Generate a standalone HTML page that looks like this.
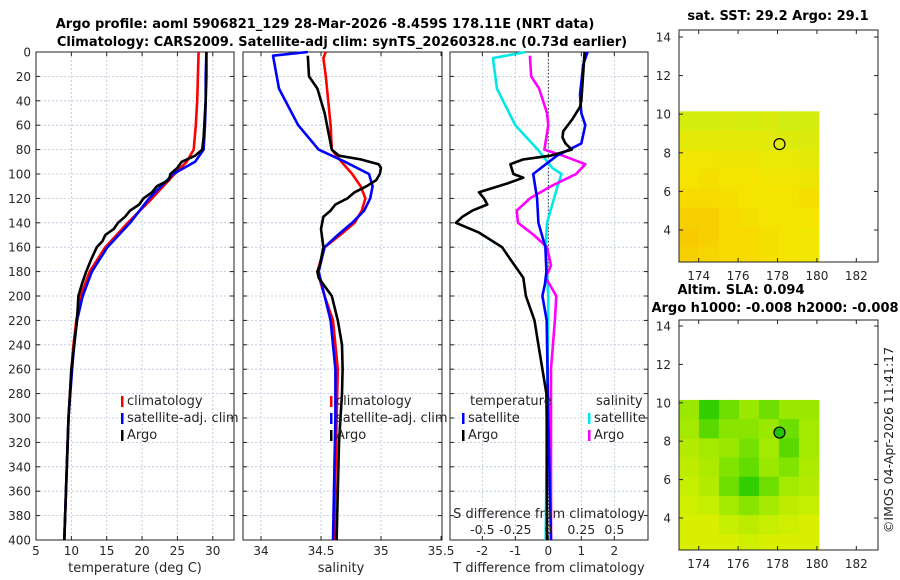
<!DOCTYPE html>
<html><head><meta charset="utf-8"><style>
body{margin:0;background:#fff}
svg{display:block;font-family:"DejaVu Sans","Liberation Sans",sans-serif}
</style></head><body>
<svg id="fig" width="900" height="580" viewBox="0 0 900 580" xmlns="http://www.w3.org/2000/svg">
<text x="325" y="28" font-size="13" font-weight="bold" text-anchor="middle" fill="#000">Argo profile: aoml 5906821_129 28-Mar-2026 -8.459S 178.11E (NRT data)</text>
<text x="342" y="46" font-size="13" font-weight="bold" text-anchor="middle" fill="#000">Climatology: CARS2009. Satellite-adj clim: synTS_20260328.nc (0.73d earlier)</text>
<text x="778" y="20" font-size="13" font-weight="bold" text-anchor="middle">sat. SST: 29.2 Argo: 29.1</text>
<text x="741" y="294" font-size="13" font-weight="bold" text-anchor="middle">Altim. SLA: 0.094</text>
<text x="775" y="312" font-size="13" font-weight="bold" text-anchor="middle">Argo h1000: -0.008 h2000: -0.008</text>
<text transform="translate(893,440) rotate(-90)" font-size="12.5" text-anchor="middle" fill="#222">©IMOS 04-Apr-2026 11:41:17</text>
<g id="g"></g>
</svg>
<script>
// ---- Panel 1: temperature ----
const tClimDepth=[0,20,40,60,80,90,100,120,140,160,180,200,220,240,260,300,350,400];
const tClimVal=[28.0,27.9,27.8,27.6,27.3,26.3,24.6,21.4,18.0,14.8,12.6,11.3,10.7,10.3,10.0,9.6,9.3,9.0];
const tSatVal=[29.1,29.0,29.0,28.9,28.7,27.5,24.4,21.0,18.3,15.1,12.9,11.6,10.8,10.4,10.1,9.6,9.3,9.0];
const tArgoDepth=[0,20,40,50,60,70,80,85,90,95,100,105,110,115,120,125,130,135,140,145,150,155,160,170,180,190,200,220,240,260,300,350,400];
const tArgoVal=[29.1,29.1,29.0,28.9,28.8,28.7,28.5,27.5,25.6,25.0,24.0,23.8,22.1,21.4,20.2,19.6,18.3,17.6,16.6,16.0,14.8,14.4,13.6,12.8,12.1,11.5,11.0,10.8,10.4,10.0,9.6,9.3,9.0];
// ---- Panel 2: salinity ----
const sClimDepth=[0,5,20,40,60,80,90,100,110,120,130,140,150,160,180,200,220,260,300,400];
const sClimVal=[34.54,34.52,34.54,34.56,34.58,34.59,34.67,34.76,34.83,34.87,34.84,34.78,34.66,34.53,34.47,34.53,34.60,34.64,34.63,34.61];
const sSatDepth=[0,3,30,60,80,90,100,110,120,130,140,150,160,180,200,220,260,300,400];
const sSatVal=[34.39,34.10,34.15,34.31,34.48,34.70,34.90,34.93,34.91,34.86,34.76,34.64,34.53,34.48,34.53,34.58,34.62,34.62,34.60];
const sArgoDepth=[3,20,30,50,70,80,85,88,92,95,100,105,110,115,120,125,130,135,145,160,175,180,185,200,220,240,260,280,320,360,400];
const sArgoVal=[34.39,34.40,34.47,34.53,34.57,34.59,34.65,34.83,34.98,35.0,34.99,34.96,34.88,34.78,34.72,34.62,34.58,34.52,34.50,34.52,34.49,34.47,34.48,34.59,34.64,34.675,34.68,34.675,34.65,34.64,34.63];
// ---- Panel 3: differences ----
const dTSatDepth=[0,10,35,50,60,75,85,100,120,140,160,180,190,200,220,300,400];
const dTSatVal=[1.19,1.06,0.96,1.0,1.12,1.0,0.26,-0.46,-0.34,-0.30,-0.09,-0.06,-0.10,-0.18,-0.05,0.0,0.08];
const dTArgoDepth=[0,20,40,45,55,65,70,75,80,85,88,92,100,103,108,115,120,125,130,135,140,148,160,170,185,200,220,240,260,280,300,400];
const dTArgoVal=[1.1,1.05,1.0,0.96,0.73,0.45,0.43,0.52,0.71,0.06,-0.76,-1.15,-1.06,-0.76,-1.27,-2.1,-1.95,-1.85,-2.3,-2.6,-2.8,-2.1,-1.4,-1.15,-0.76,-0.68,-0.42,-0.3,-0.18,-0.06,-0.05,-0.04];
const dSSatDepth=[0,5,30,60,80,95,100,110,140,160,200,300,400];
const dSSatVal=[-0.17,-0.42,-0.39,-0.25,-0.08,0.03,0.10,0.07,-0.01,-0.02,0.0,-0.01,-0.02];
const dSArgoDepth=[3,20,30,50,60,80,85,92,100,110,120,130,140,150,160,175,185,200,220,260,300,400];
const dSArgoVal=[-0.14,-0.13,-0.07,-0.01,0.0,-0.03,0.11,0.28,0.21,0.02,-0.14,-0.24,-0.23,-0.11,-0.01,0.02,-0.02,0.06,0.05,0.02,0.02,0.02];
// ---- ticks ----
const depthTicks=[0,20,40,60,80,100,120,140,160,180,200,220,240,260,280,300,320,340,360,380,400];
const tempTicks=[5,10,15,20,25,30];
const salTicks=[34,34.5,35,35.5];
const dTTicks=[-2,-1,0,1,2];
const dSTicks=[-0.5,-0.25,0,0.25,0.5];
// ---- maps ----
const latTicks=[4,6,8,10,12,14];
const lonTicks=[174,176,178,180,182];
const sstGrid=[
[0.1,0.1,0.15,0.1,0.15,0.05,0.1],
[0.3,0.3,0.3,0.3,0.25,0.2,0.2],
[0.45,0.45,0.4,0.4,0.35,0.35,0.3],
[0.5,0.55,0.5,0.5,0.45,0.45,0.4],
[0.6,0.6,0.55,0.5,0.5,0.5,0.55],
[0.7,0.7,0.6,0.55,0.5,0.5,0.5],
[0.75,0.7,0.6,0.6,0.55,0.5,0.45],
[0.7,0.65,0.6,0.6,0.55,0.5,0.45]];
const slaGrid=[
[0.35,0.9,0.6,0.35,0.6,0.35,0.35],
[0.3,0.7,0.45,0.45,0.35,0.6,0.3],
[0.2,0.3,0.35,0.55,0.3,0.7,0.3],
[0.15,0.25,0.5,0.65,0.35,0.5,0.25],
[0.1,0.2,0.6,0.9,0.6,0.3,0.2],
[0.05,0.1,0.3,0.45,0.3,0.15,0.1],
[0.0,0.0,0.1,0.15,0.1,0.05,0.0],
[0.0,0.0,0.0,0.05,0.0,0.0,0.0]];
const argoLon=178.1, argoLat=8.45;

const NS="http://www.w3.org/2000/svg";
const G=document.getElementById('g');
function el(tag,attrs,parent){const e=document.createElementNS(NS,tag);for(const k in attrs)e.setAttribute(k,attrs[k]);(parent||G).appendChild(e);return e;}
function txt(x,y,s,size,anchor,parent){const t=el('text',{x:x,y:y,'font-size':size,'text-anchor':anchor||'middle',fill:'#262626'},parent);t.textContent=s;return t;}

const Y0=52,Y1=540;
const yD=d=>Y0+(d/400)*(Y1-Y0);
function lin(d0,d1,r0,r1){return v=>r0+(v-d0)/(d1-d0)*(r1-r0);}
const xT=lin(5,33,36,234);
const xS=lin(33.85,35.508,243,442);
const xDT=lin(-2.98,3.02,450,648);
const xDS=lin(-0.745,0.755,450,648);

function panel(name,x0,x1,xs,ticks,lbls){
  const g=el('g',{});
  
  
  depthTicks.forEach(d=>{if(d>0&&d<400){const l=el('line',{x1:x0,x2:x1,y1:yD(d),y2:yD(d),stroke:'#b8c4e0','stroke-width':0.8,'stroke-dasharray':'2,2'},g);
    }
    el('line',{x1:x0,x2:x0+4,y1:yD(d),y2:yD(d),stroke:'#222'},g);el('line',{x1:x1-4,x2:x1,y1:yD(d),y2:yD(d),stroke:'#222'},g);});
  ticks.forEach((v,i)=>{const x=xs(v);
    if(x>x0+1&&x<x1-1){const l=el('line',{x1:x,x2:x,y1:Y0,y2:Y1,stroke:'#b8c4e0','stroke-width':0.8,'stroke-dasharray':'2,2'},g);
      }
    el('line',{x1:x,x2:x,y1:Y1,y2:Y1-4,stroke:'#222'},g);el('line',{x1:x,x2:x,y1:Y0,y2:Y0+4,stroke:'#222'},g);
    const t=txt(x,Y1+15,lbls[i],12,'middle',g);});
  const r=el('rect',{x:x0,y:Y0,width:x1-x0,height:Y1-Y0,fill:'none',stroke:'#222','stroke-width':1},g);
  
  return g;
}
function line(xs,depths,vals,color,name,w){
  const p=depths.map((d,i)=>xs(vals[i]).toFixed(1)+','+yD(d).toFixed(1)).join(' ');
  const l=el('polyline',{points:p,fill:'none',stroke:color,'stroke-width':w||2.6,'stroke-linejoin':'round'});
  
  
}
function legend(x,y,color,label,name){
  el('rect',{x:x,y:y-9,width:2.5,height:11,fill:color});
  const t=txt(x+6,y,label,13,'start');
  
  
}

// panel 1
panel('temperature-panel',36,234,xT,tempTicks,tempTicks.map(String));
depthTicks.forEach(d=>{const t=txt(31,yD(d)+4.5,String(d),12,'end');
  
  });
line(xT,tClimDepth,tClimVal,'#ff0000','temp-climatology-line');
line(xT,tClimDepth,tSatVal,'#0000ff','temp-satellite-line');
line(xT,tArgoDepth,tArgoVal,'#000000','temp-argo-line');
let t1=txt(135,572,'temperature (deg C)',13);
legend(121,405,'#ff0000','climatology','legend-climatology');
legend(121,422,'#0000ff','satellite-adj. clim','legend-satellite');
legend(121,439,'#000000','Argo','legend-argo');

// panel 2
panel('salinity-panel',243,442,xS,salTicks,['34','34.5','35','35.5']);
line(xS,sClimDepth,sClimVal,'#ff0000','sal-climatology-line');
line(xS,sSatDepth,sSatVal,'#0000ff','sal-satellite-line');
line(xS,sArgoDepth,sArgoVal,'#000000','sal-argo-line');
let t2=txt(341,572,'salinity',13);
legend(330,405,'#ff0000','climatology','legend-sal-climatology');
legend(330,422,'#0000ff','satellite-adj. clim','legend-sal-satellite');
legend(330,439,'#000000','Argo','legend-sal-argo');

// panel 3
panel('difference-panel',450,648,xDT,dTTicks,dTTicks.map(String));
const zl=el('line',{x1:xDT(0),x2:xDT(0),y1:Y0,y2:Y1,stroke:'#333','stroke-width':1,'stroke-dasharray':'1.5,2'});


line(xDS,dSSatDepth,dSSatVal,'#00e8e8','sal-diff-satellite-line');
line(xDS,dSArgoDepth,dSArgoVal,'#ff00ff','sal-diff-argo-line');
line(xDT,dTSatDepth,dTSatVal,'#0000ff','temp-diff-satellite-line');
line(xDT,dTArgoDepth,dTArgoVal,'#000000','temp-diff-argo-line');
let t3=txt(549,572,'T difference from climatology',13);
let t4=txt(549,518,'S difference from climatology',13);
dSTicks.forEach(v=>{const t=txt(xDS(v),534,String(v),12.5);
  
  });
let t5=txt(470,405,'temperature',13,'start');
let t6=txt(596,405,'salinity',13,'start');
legend(462,422,'#0000ff','satellite','legend-tdiff-satellite');
legend(462,439,'#000000','Argo','legend-tdiff-argo');
legend(588,422,'#00e8e8','satellite','legend-sdiff-satellite');
legend(588,439,'#ff00ff','Argo','legend-sdiff-argo');

// maps
function mix(a,b,t){return a.map((v,i)=>Math.round(v+(b[i]-v)*t));}
function cmap(stops,v){v=Math.max(stops[0][0],Math.min(stops[stops.length-1][0],v));
  for(let i=1;i<stops.length;i++){if(v<=stops[i][0]){const t=(v-stops[i-1][0])/(stops[i][0]-stops[i-1][0]);const c=mix(stops[i-1][1],stops[i][1],t);return 'rgb('+c.join(',')+')';}}
  return 'rgb('+stops[stops.length-1][1].join(',')+')';}
const sstStops=[[0,[205,240,20]],[0.5,[245,228,0]],[1,[248,178,0]]];
const slaStops=[[-0.1,[240,216,0]],[0,[216,240,0]],[0.5,[128,228,0]],[1,[32,200,0]]];
function map(name,top,bottom,lat14,lat4,grid,stops,filled){
  const g=el('g',{});
  
  
  const X0=679,X1=878;
  const xL=lin(173,183.1,X0,X1), yL=lin(14,4,lat14,lat4);
  const rows=grid.length, cols=grid[0].length;
  const lonE=180.1, latTop=10.15, cw=(lonE-173)/cols;
  const cp=el('clipPath',{id:name+'-clip'},g);el('rect',{x:X0,y:top,width:X1-X0,height:bottom-top},cp);
  const cg=el('g',{'clip-path':'url(#'+name+'-clip)'},g);
  for(let r=0;r<rows;r++)for(let c=0;c<cols;c++){
    const x=xL(173+c*cw), y=yL(latTop-r);
    const cell=el('rect',{x:x,y:y,width:xL(173+(c+1)*cw)-x+0.5,height:yL(latTop-r-1)-y+0.5,fill:cmap(stops,grid[r][c])},cg);
    
    
  }
  latTicks.forEach(v=>{const y=yL(v);el('line',{x1:X0,x2:X0+4,y1:y,y2:y,stroke:'#222'},g);el('line',{x1:X1-4,x2:X1,y1:y,y2:y,stroke:'#222'},g);
    const t=txt(671,y+4.5,String(v),12,'end',g);});
  lonTicks.forEach(v=>{const x=xL(v);el('line',{x1:x,x2:x,y1:bottom,y2:bottom-4,stroke:'#222'},g);el('line',{x1:x,x2:x,y1:top,y2:top+4,stroke:'#222'},g);
    const t=txt(x,bottom+18,String(v),12,'middle',g);});
  const f=el('rect',{x:X0,y:top,width:X1-X0,height:bottom-top,fill:'none',stroke:'#222'},g);
  
  const m=el('circle',{cx:xL(argoLon),cy:yL(argoLat),r:5.5,fill:filled?'#22c400':'none',stroke:'#000','stroke-width':1.2},g);
  
  
}
map('sst-map',30,262,37,230,sstGrid,sstStops,false);
map('sla-map',320,550,326,518,slaGrid,slaStops,true);
</script>
</body></html>
